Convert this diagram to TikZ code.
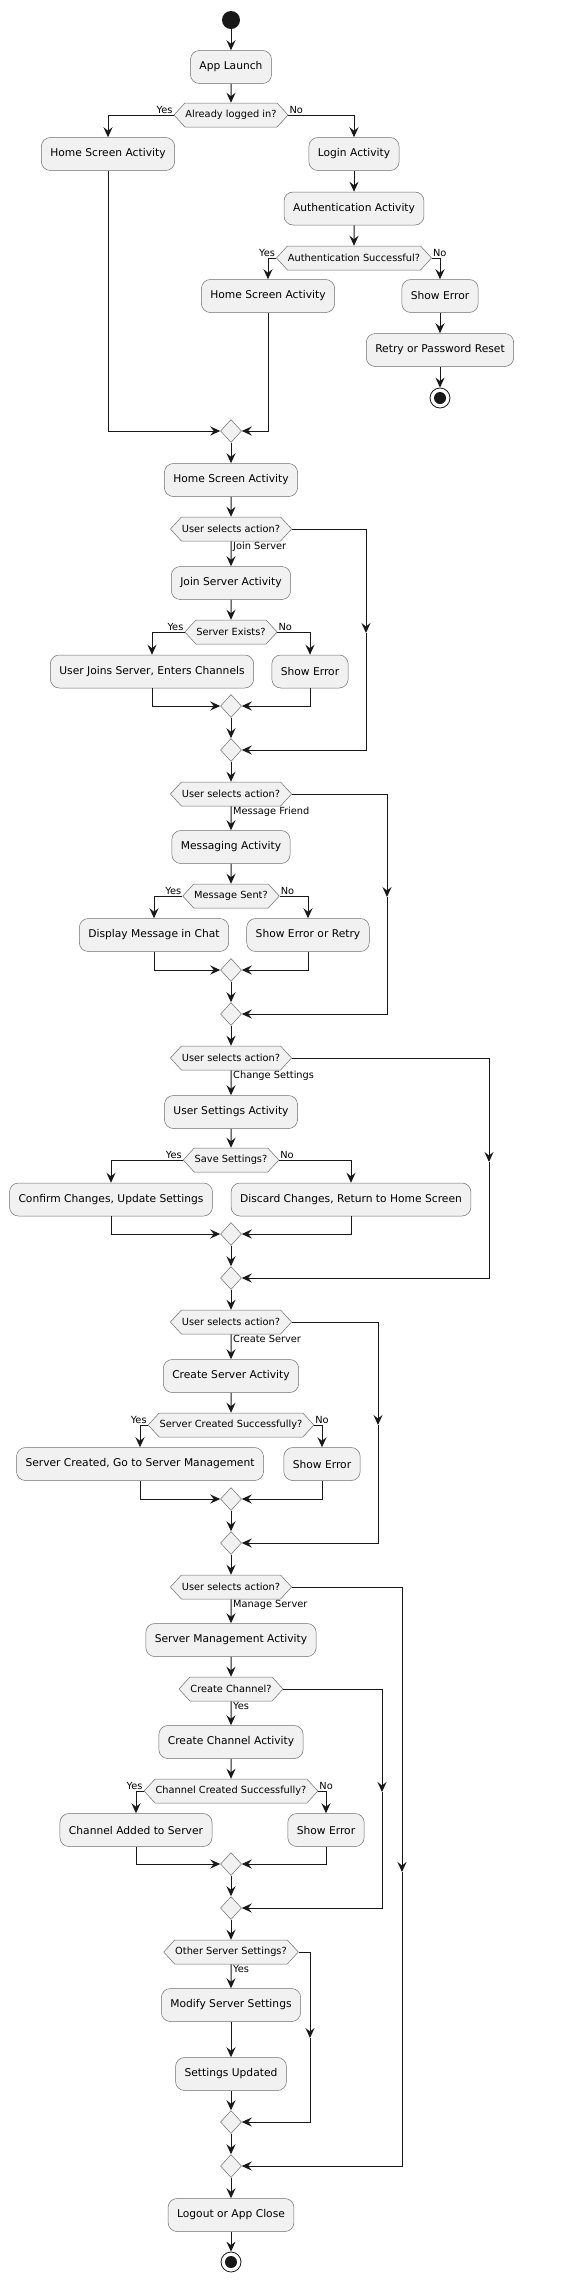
\documentclass[tikz,border=0pt]{standalone}
\usepackage{fontspec}
\setmainfont{DejaVu Sans}
\usetikzlibrary{arrows.meta, shapes.geometric, shapes.symbols}
\definecolor{boxfill}{HTML}{F1F1F1}
\definecolor{boxline}{HTML}{6E6E6E}
\definecolor{ink}{HTML}{181818}
\tikzset{
    act/.style={draw=boxline, line width=0.5pt, fill=boxfill, rounded corners=9pt,
        minimum height=33pt, inner xsep=9pt, font=\fontsize{10.7}{13}\selectfont},
    ask/.style={draw=boxline, line width=0.5pt, fill=boxfill, signal, signal to=east and west,
        signal pointer angle=95, minimum height=24pt, inner xsep=0.5pt, inner ysep=0pt,
        font=\fontsize{9.8}{12}\selectfont},
    merge/.style={draw=boxline, line width=0.5pt, fill=boxfill, diamond,
        minimum width=21pt, minimum height=23pt, inner sep=0pt},
    lbl/.style={inner sep=1pt, font=\fontsize{9.8}{12}\selectfont},
    flow/.style={draw=ink, line width=1pt, -{Stealth[length=10pt, width=9pt, inset=3.5pt]}},
}

\begin{document}
\begin{tikzpicture}[x=1pt, y=-1pt]

            \useasboundingbox (0, 0) rectangle (586, 2287);

            \node[circle, fill=ink, minimum size=18pt, inner sep=0pt] (start) at (231, 20) {};
            \node[act] (launch) at (231, 67) {App Launch};
            \node[ask] (q1) at (231, 115) {Already logged in?};
            \node[lbl, anchor=south east] at (q1.west) {Yes};
            \node[lbl, anchor=south west] at (q1.east) {No};

            \node[act] (home1) at (108, 154) {Home Screen Activity};
            \node[act] (login) at (354, 154) {Login Activity};
            \node[act] (auth) at (354, 208.5) {Authentication Activity};
            \node[ask] (q2) at (354, 258) {Authentication Successful?};
            \node[lbl, anchor=south east] at (q2.west) {Yes};
            \node[lbl, anchor=south west] at (q2.east) {No};
            \node[act] (home2) at (268, 296) {Home Screen Activity};
            \node[act] (err1) at (440, 296) {Show Error};
            \node[act] (retry) at (440, 350) {Retry or Password Reset};
            \node[circle, draw=ink, line width=0.8pt, fill=white, minimum size=20pt, inner sep=0pt] (stop1) at (440, 398) {};
            \fill[ink] (stop1.center) circle (6pt);
            \node[merge] (m1) at (231, 431) {};

            \draw[flow] (start) -- (launch);
            \draw[flow] (launch) -- (q1);
            \draw[flow] (q1.west) -| (home1.north);
            \draw[flow] (q1.east) -| (login.north);
            \draw[flow] (login) -- (auth);
            \draw[flow] (auth) -- (q2);
            \draw[flow] (q2.west) -| (home2.north);
            \draw[flow] (q2.east) -| (err1.north);
            \draw[flow] (err1) -- (retry);
            \draw[flow] (retry) -- (stop1);
            \draw[flow] (home1.south) |- (m1.west);
            \draw[flow] (home2.south) |- (m1.east);

            \node[act] (home3) at (231, 480) {Home Screen Activity};
            \node[ask] (sel1) at (231, 529) {User selects action?};
            \node[lbl, anchor=north west, xshift=1pt] at (sel1.south) {Join Server};
            \node[act] (join) at (231, 583) {Join Server Activity};
            \node[ask] (q3) at (231, 632) {Server Exists?};
            \node[lbl, anchor=south east] at (q3.west) {Yes};
            \node[lbl, anchor=south west] at (q3.east) {No};
            \node[act] (joined) at (152, 671.5) {User Joins Server, Enters Channels};
            \node[act] (err2) at (310, 671.5) {Show Error};
            \node[merge] (m2) at (231, 706) {};
            \node[merge] (m3) at (231, 750) {};
            \coordinate (c1) at (366, 633);

            \draw[flow] (m1.south) -- (home3.north);
            \draw[flow] (home3) -- (sel1);
            \draw[flow] (sel1) -- (join);
            \draw[flow] (join) -- (q3);
            \draw[flow] (q3.west) -| (joined.north);
            \draw[flow] (q3.east) -| (err2.north);
            \draw[flow] (joined.south) |- (m2.west);
            \draw[flow] (err2.south) |- (m2.east);
            \draw[flow] (m2.south) -- (m3.north);
            \draw[flow] (sel1.east) -| (c1);
            \draw[flow] (c1) |- (m3.east);

            \node[ask] (sel2) at (231, 794) {User selects action?};
            \node[lbl, anchor=north west, xshift=1pt] at (sel2.south) {Message Friend};
            \node[act] (msg) at (231, 847) {Messaging Activity};
            \node[ask] (q4) at (231, 896) {Message Sent?};
            \node[lbl, anchor=south east] at (q4.west) {Yes};
            \node[lbl, anchor=south west] at (q4.east) {No};
            \node[act] (disp) at (154, 935) {Display Message in Chat};
            \node[act] (err3) at (308, 935) {Show Error or Retry};
            \node[merge] (m4) at (231, 970) {};
            \node[merge] (m5) at (231, 1014) {};
            \coordinate (c2) at (387, 897);

            \draw[flow] (m3.south) -- (sel2.north);
            \draw[flow] (sel2) -- (msg);
            \draw[flow] (msg) -- (q4);
            \draw[flow] (q4.west) -| (disp.north);
            \draw[flow] (q4.east) -| (err3.north);
            \draw[flow] (disp.south) |- (m4.west);
            \draw[flow] (err3.south) |- (m4.east);
            \draw[flow] (m4.south) -- (m5.north);
            \draw[flow] (sel2.east) -| (c2);
            \draw[flow] (c2) |- (m5.east);

            \node[ask] (sel3) at (231, 1058) {User selects action?};
            \node[lbl, anchor=north west, xshift=1pt] at (sel3.south) {Change Settings};
            \node[act] (uset) at (231, 1112) {User Settings Activity};
            \node[ask] (q5) at (231, 1160) {Save Settings?};
            \node[lbl, anchor=south east] at (q5.west) {Yes};
            \node[lbl, anchor=south west] at (q5.east) {No};
            \node[act] (conf) at (111, 1199.5) {Confirm Changes, Update Settings};
            \node[act] (disc) at (351, 1199.5) {Discard Changes, Return to Home Screen};
            \node[merge] (m6) at (231, 1234) {};
            \node[merge] (m7) at (231, 1278) {};
            \coordinate (c3) at (489, 1162);

            \draw[flow] (m5.south) -- (sel3.north);
            \draw[flow] (sel3) -- (uset);
            \draw[flow] (uset) -- (q5);
            \draw[flow] (q5.west) -| (conf.north);
            \draw[flow] (q5.east) -| (disc.north);
            \draw[flow] (conf.south) |- (m6.west);
            \draw[flow] (disc.south) |- (m6.east);
            \draw[flow] (m6.south) -- (m7.north);
            \draw[flow] (sel3.east) -| (c3);
            \draw[flow] (c3) |- (m7.east);

            \node[ask] (sel4) at (231, 1322) {User selects action?};
            \node[lbl, anchor=north west, xshift=1pt] at (sel4.south) {Create Server};
            \node[act] (cserv) at (231, 1376) {Create Server Activity};
            \node[ask] (q6) at (231, 1425) {Server Created Successfully?};
            \node[lbl, anchor=south east] at (q6.west) {Yes};
            \node[lbl, anchor=south west] at (q6.east) {No};
            \node[act] (created) at (140, 1464) {Server Created, Go to Server Management};
            \node[act] (err4) at (322, 1464) {Show Error};
            \node[merge] (m8) at (231, 1499) {};
            \node[merge] (m9) at (231, 1543) {};
            \coordinate (c4) at (378, 1425);

            \draw[flow] (m7.south) -- (sel4.north);
            \draw[flow] (sel4) -- (cserv);
            \draw[flow] (cserv) -- (q6);
            \draw[flow] (q6.west) -| (created.north);
            \draw[flow] (q6.east) -| (err4.north);
            \draw[flow] (created.south) |- (m8.west);
            \draw[flow] (err4.south) |- (m8.east);
            \draw[flow] (m8.south) -- (m9.north);
            \draw[flow] (sel4.east) -| (c4);
            \draw[flow] (c4) |- (m9.east);

            \node[ask] (sel5) at (231, 1587) {User selects action?};
            \node[lbl, anchor=north west, xshift=1pt] at (sel5.south) {Manage Server};
            \node[act] (mgmt) at (231, 1640) {Server Management Activity};
            \node[ask] (q7) at (231, 1689) {Create Channel?};
            \node[lbl, anchor=north west, xshift=1pt] at (q7.south) {Yes};
            \node[act] (cchan) at (231, 1742) {Create Channel Activity};
            \node[ask] (q8) at (231, 1791) {Channel Created Successfully?};
            \node[lbl, anchor=south east] at (q8.west) {Yes};
            \node[lbl, anchor=south west] at (q8.east) {No};
            \node[act] (added) at (136, 1830) {Channel Added to Server};
            \node[act] (err5) at (326, 1830) {Show Error};
            \node[merge] (m10) at (231, 1864) {};
            \node[merge] (m11) at (231, 1908) {};
            \coordinate (c5) at (382, 1792);

            \draw[flow] (m9.south) -- (sel5.north);
            \draw[flow] (sel5) -- (mgmt);
            \draw[flow] (mgmt) -- (q7);
            \draw[flow] (q7) -- (cchan);
            \draw[flow] (cchan) -- (q8);
            \draw[flow] (q8.west) -| (added.north);
            \draw[flow] (q8.east) -| (err5.north);
            \draw[flow] (added.south) |- (m10.west);
            \draw[flow] (err5.south) |- (m10.east);
            \draw[flow] (m10.south) -- (m11.north);
            \draw[flow] (q7.east) -| (c5);
            \draw[flow] (c5) |- (m11.east);

            \node[ask] (q9) at (231, 1952) {Other Server Settings?};
            \node[lbl, anchor=north west, xshift=1pt] at (q9.south) {Yes};
            \node[act] (modify) at (231, 2005) {Modify Server Settings};
            \node[act] (updated) at (231, 2074) {Settings Updated};
            \node[merge] (m12) at (231, 2122) {};
            \node[merge] (m13) at (231, 2166) {};
            \coordinate (c6) at (310, 2038);
            \coordinate (c7) at (402, 1872);
            \node[act] (logout) at (231, 2215) {Logout or App Close};
            \node[circle, draw=ink, line width=0.8pt, fill=white, minimum size=20pt, inner sep=0pt] (stop2) at (231, 2262) {};
            \fill[ink] (stop2.center) circle (6pt);

            \draw[flow] (m11.south) -- (q9.north);
            \draw[flow] (q9) -- (modify);
            \draw[flow] (modify) -- (updated);
            \draw[flow] (updated) -- (m12);
            \draw[flow] (q9.east) -| (c6);
            \draw[flow] (c6) |- (m12.east);
            \draw[flow] (m12.south) -- (m13.north);
            \draw[flow] (sel5.east) -| (c7);
            \draw[flow] (c7) |- (m13.east);
            \draw[flow] (m13.south) -- (logout.north);
            \draw[flow] (logout) -- (stop2);
        \end{tikzpicture}
\end{document}
